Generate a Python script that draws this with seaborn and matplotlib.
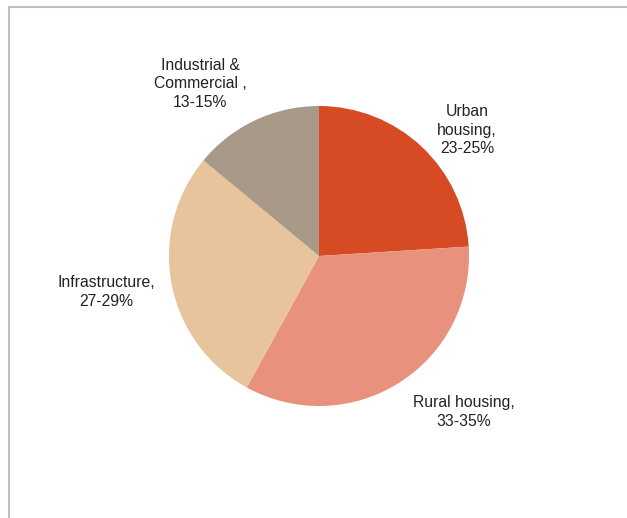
import matplotlib
matplotlib.use("Agg")
import matplotlib.pyplot as plt
import seaborn as sns
from matplotlib.patches import Rectangle

# Share of demand by segment (midpoint of each range)
segments = ["Urban housing", "Rural housing", "Infrastructure", "Industrial & Commercial"]
shares = [24, 34, 28, 14]
ranges = ["23-25%", "33-35%", "27-29%", "13-15%"]
label_text = ["Urban\nhousing,\n23-25%",
              "Rural housing,\n33-35%",
              "Infrastructure,\n27-29%",
              "Industrial &\nCommercial ,\n13-15%"]
colors = ["#D64A24", "#E8917C", "#E8C49C", "#A89988"]

sns.set_style("white")
plt.rcParams["font.family"] = ["Liberation Sans", "DejaVu Sans"]

W, H = 627, 518
fig = plt.figure(figsize=(W / 100, H / 100), dpi=100)
ax = fig.add_axes([0, 0, 1, 1])


def py(y):
    # pixel row measured from the top -> data y
    return H - y


# chart frame (only top and left edges fall inside the canvas)
ax.add_patch(Rectangle((9, py(7) - 600), 700, 600, fill=False,
                       edgecolor="#C0C0C0", linewidth=1.5, clip_on=False))

ax.pie(shares, colors=colors, startangle=90, counterclock=False,
       center=(319, py(256)), radius=150, frame=True,
       wedgeprops=dict(linewidth=0))
ax.set_xlim(0, W)
ax.set_ylim(0, H)
ax.set_aspect("equal")
ax.axis("off")

label_pos = [(467, 130), (464, 412), (106, 292), (200, 84)]
for (x, y), t in zip(label_pos, label_text):
    ax.text(x, py(y), t, ha="center", va="center", fontsize=11.3,
            color="#222222", linespacing=1.3)

fig.savefig("out.png", dpi=100)
